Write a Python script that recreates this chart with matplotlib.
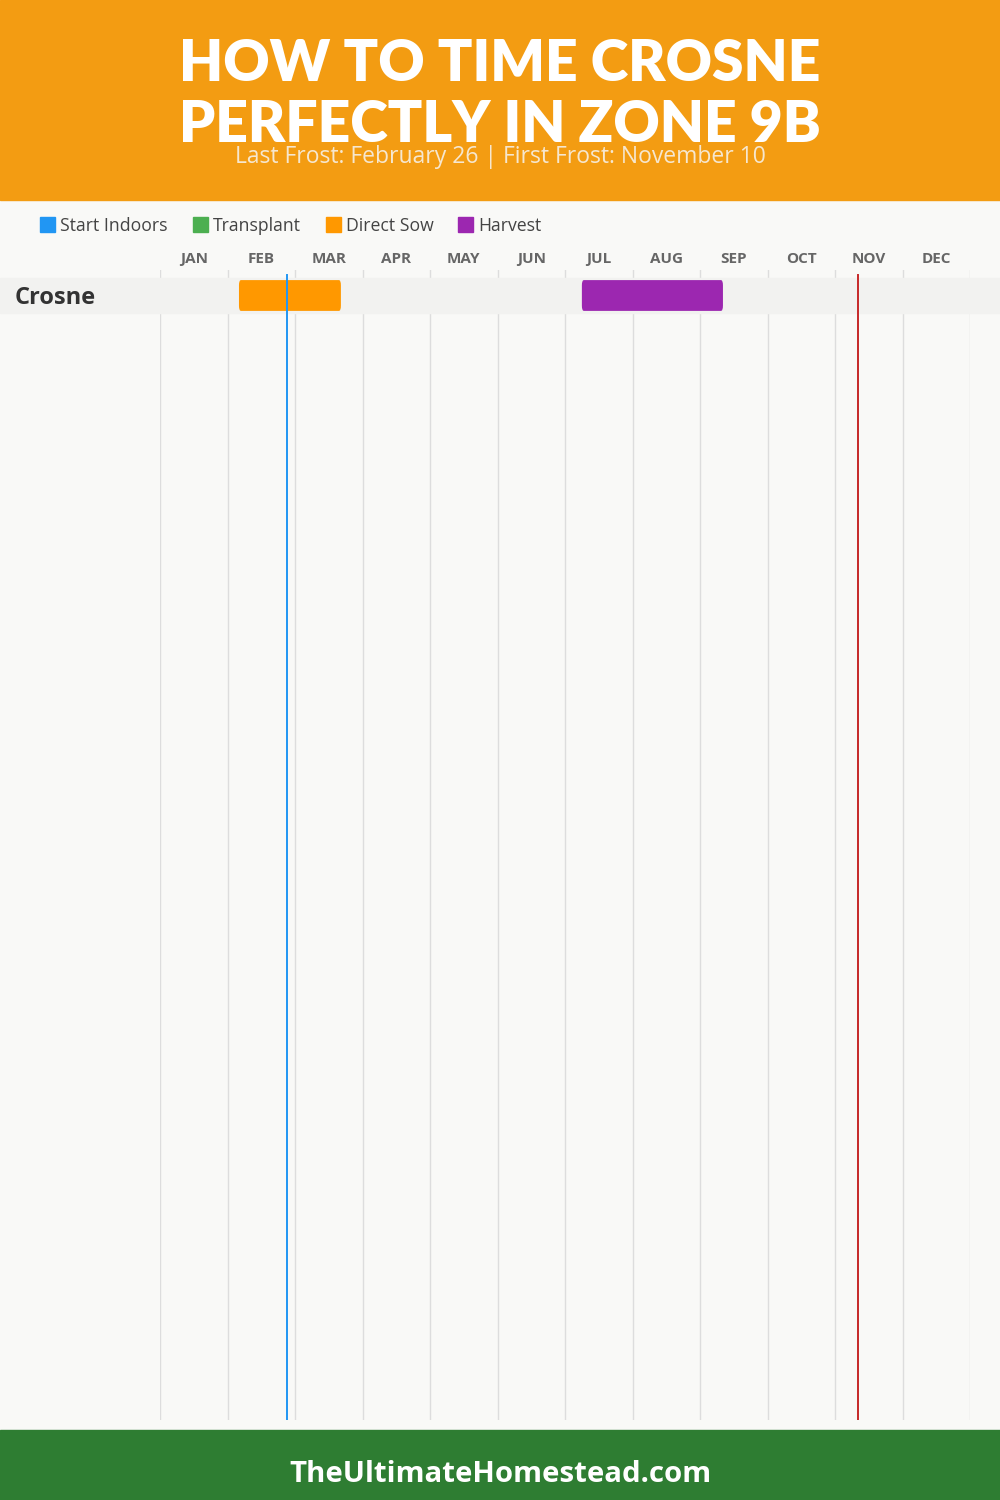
import matplotlib
matplotlib.use("Agg")
import matplotlib.pyplot as plt
import matplotlib.transforms as mtransforms
from matplotlib.patches import Rectangle, FancyBboxPatch

# data
months = ["JAN", "FEB", "MAR", "APR", "MAY", "JUN", "JUL", "AUG", "SEP", "OCT", "NOV", "DEC"]
crops = ["Crosne"]
# (start, end) in months from Jan 1
direct_sow = [(1.17, 2.68)]
harvest = [(6.25, 8.34)]
last_frost = 1.88   # Feb 26
first_frost = 10.34  # Nov 10
legend_labels = ["Start Indoors", "Transplant", "Direct Sow", "Harvest"]
legend_colors = ["#2196F3", "#4CAF50", "#FF9800", "#9C27B0"]

W, H = 1000, 1500
fig = plt.figure(figsize=(10, 15), dpi=100, facecolor="#F9F9F7")

# header / footer
fig.patches.append(Rectangle((0, 1 - 200 / H), 1, 200 / H, transform=fig.transFigure,
                             color="#F39C12", zorder=0))
fig.patches.append(Rectangle((0, 0), 1, 70 / H, transform=fig.transFigure,
                             color="#2E7D32", zorder=0))
title_font = ["Lato", "DejaVu Sans"]
fig.text(0.5, 1 - 64 / H, "HOW TO TIME CROSNE", ha="center", va="center",
         fontsize=41, fontweight="heavy", color="white", family=title_font)
fig.text(0.5, 1 - 125 / H, "PERFECTLY IN ZONE 9B", ha="center", va="center",
         fontsize=41, fontweight="heavy", color="white", family=title_font)
fig.text(0.5, 1 - 157 / H, "Last Frost: February 26 | First Frost: November 10",
         ha="center", va="center", fontsize=16.5, color="#F6E7CF", family=["Open Sans"])
fig.text(0.5, 1 - 1474 / H, "TheUltimateHomestead.com", ha="center", va="center",
         fontsize=21.2, fontweight="bold", color="white", family=["Open Sans"])

# legend
lx = 40
for lab, col in zip(legend_labels, legend_colors):
    fig.patches.append(Rectangle((lx / W, 1 - 232 / H), 15 / W, 15 / H,
                                 transform=fig.transFigure, color=col))
    t = fig.text((lx + 20) / W, 1 - 226 / H, lab, ha="left", va="center",
                 fontsize=12.7, color="#444444", family=["Open Sans"])
    fig.canvas.draw()
    bb = t.get_window_extent()
    lx = bb.x1 + 25

# chart axes
row_h = 35
top_px, bot_px = 270, 1420
ax = fig.add_axes([160 / W, 1 - bot_px / H, 810 / W, (bot_px - top_px) / H])
ax.set_facecolor("none")
ax.set_xlim(0, 12)
y_top = -(295.5 - top_px) / row_h
y_bot = (bot_px - 295.5) / row_h
ax.set_ylim(y_bot, y_top)
for s in ax.spines.values():
    s.set_visible(False)
ax.set_xticks([])
ax.set_yticks([])

for m in range(13):
    ax.axvline(m, color="#DDDDDD", lw=1, zorder=1)
for i, m in enumerate(months):
    ax.text(i + 0.5, y_top - 11 / row_h, m, ha="center", va="center", fontsize=11,
            fontweight="bold", color="#666666", family=["Open Sans"], clip_on=False)

trans = mtransforms.blended_transform_factory(fig.transFigure, ax.transData)
for r, crop in enumerate(crops):
    band = Rectangle((0, r - 0.5), 1, 1, transform=trans, color="#F2F2F0", zorder=2,
                     clip_on=False)
    ax.add_artist(band)
    ax.text(15 / W, r + 2 / row_h, crop, transform=trans, ha="left", va="center",
            fontsize=17, fontweight="bold", color="#333333", family=["Open Sans"])
    for (s, e), col in [(direct_sow[r], "#FF9800"), (harvest[r], "#9C27B0")]:
        ax.add_patch(FancyBboxPatch((s, r - 0.44), e - s, 0.88,
                                    boxstyle="round,pad=0,rounding_size=0.03",
                                    mutation_aspect=1 / 0.2,
                                    color=col, zorder=3, lw=0))

ax.plot([last_frost, last_frost], [y_top + 5 / row_h, y_bot], color="#2196F3", lw=1.4, zorder=4)
ax.plot([first_frost, first_frost], [y_top + 5 / row_h, y_bot], color="#C62828", lw=1.4, zorder=4)

fig.savefig("out.png", dpi=100, facecolor=fig.get_facecolor())
